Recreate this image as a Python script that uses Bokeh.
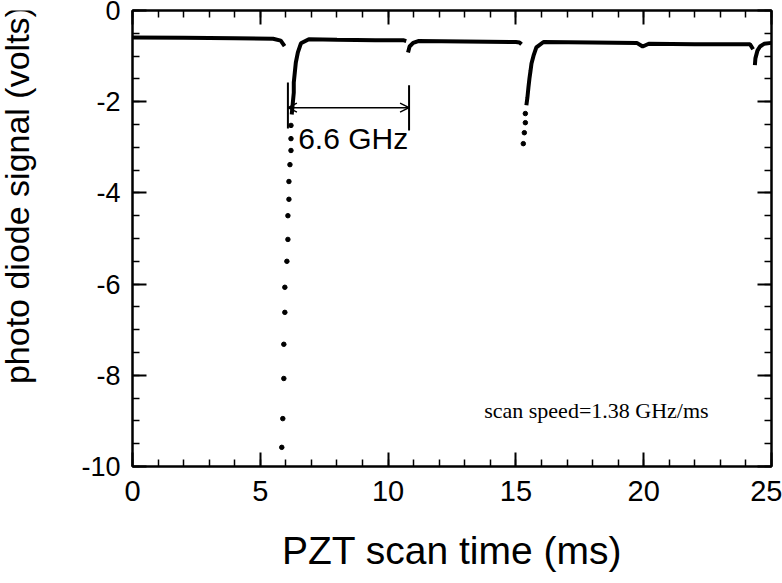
import math
from bokeh.plotting import figure
from bokeh.layouts import row
from bokeh.models import Range1d, LinearAxis, FixedTicker, Arrow, OpenHead, Label
from bokeh.core.properties import value
from bokeh.embed import file_html
from bokeh.resources import INLINE

# ---- data (PZT scan time in ms, photodiode signal in volts) ----
# continuous (densely sampled) parts of the trace; NaN separates pieces
trace_t = [0.0, 2.0, 4.0, 5.5, 5.80, 5.95, float("nan"),
           6.23, 6.27, 6.31, 6.31, 6.35, 6.39, 6.47, 6.59, 6.90, 8.0, 9.5, 10.59, 10.71, float("nan"),
           10.78, 10.84, 10.98, 11.18, 13.0, 15.0, 15.14, 15.22, float("nan"),
           15.41, 15.45, 15.49, 15.53, 15.57, 15.61, 15.69, 15.80, 16.08, 18.0, 19.73, 19.96, 20.20,
           22.0, 24.16, 24.28, float("nan"),
           24.35, 24.37, 24.45, 24.55, 24.71, 25.0]
trace_v = [-0.59, -0.60, -0.61, -0.62, -0.66, -0.78, float("nan"),
           -2.28, -2.04, -1.80, -1.58, -1.36, -1.14, -0.92, -0.72, -0.63, -0.64, -0.65, -0.65, -0.67, float("nan"),
           -0.92, -0.79, -0.71, -0.67, -0.68, -0.69, -0.70, -0.74, float("nan"),
           -2.08, -1.91, -1.69, -1.49, -1.33, -1.16, -0.99, -0.81, -0.69, -0.70, -0.71, -0.79, -0.73,
           -0.74, -0.74, -0.85, float("nan"),
           -1.20, -1.05, -0.88, -0.79, -0.73, -0.71]

# sparse samples in the fast dips
dot_t = [5.84, 5.88, 5.92, 5.92, 5.96, 5.96, 6.04, 6.08, 6.08, 6.12, 6.12, 6.16, 6.20, 6.20, 6.20,
         15.29, 15.33, 15.37, 15.37]
dot_v = [-9.58, -8.95, -8.07, -7.32, -6.62, -6.07, -5.50, -5.02, -4.50, -4.14, -3.75, -3.38, -3.07, -2.81, -2.52,
         -2.92, -2.68, -2.46, -2.26]

# annotation: spacing between the two resonances
mark_t = [6.08, 10.82]
mark_v_top = [-1.58, -1.64]
mark_v_bot = [-2.59, -2.63]
arrow_v = -2.13
mark_text = "6.6 GHz"
speed_text = "scan speed=1.38 GHz/ms"
x_title = "PZT scan time (ms)"
y_title = "photo diode signal (volts)"

x_ticks = [0, 5, 10, 15, 20, 25]
x_minor = [i for i in range(0, 26)]
y_ticks = [-10, -8, -6, -4, -2, 0]
y_minor = [-10 + 0.5 * i for i in range(0, 21)]
y_tick_labels = {-10: "-10", -8: "-8", -6: "-6", -4: "-4", -2: "-2", 0: "0"}

FONT = "Liberation Sans"
W, H = 782, 583
LW = 44  # width of the strip holding the vertical title

# ---- strip with the vertical y-axis title ----
lab = figure(width=LW, height=H, x_range=Range1d(0, LW), y_range=Range1d(0, H),
             output_backend="svg", toolbar_location=None,
             min_border=0, min_border_left=0, min_border_right=0, min_border_top=0, min_border_bottom=0)
lab.axis.visible = False
lab.grid.visible = False
lab.outline_line_color = None
lab.background_fill_color = "white"
lab.border_fill_color = "white"
lab.text(x=[16], y=[347], text=[y_title], angle=math.pi / 2, text_font=value(FONT),
         text_font_size="34px", text_align="center", text_baseline="middle", text_color="black")

# ---- main plot ----
p = figure(width=W - LW, height=H, x_range=Range1d(0, 25), y_range=Range1d(-10, 0),
           output_backend="svg", toolbar_location=None,
           min_border_left=132 - LW, min_border_right=11, min_border_top=10, min_border_bottom=117)
p.background_fill_color = "white"
p.border_fill_color = "white"
p.outline_line_color = "black"
p.outline_line_width = 2
p.xgrid.visible = False
p.ygrid.visible = False

def style_axis(ax, ticks, minor, size):
    ax.ticker = FixedTicker(ticks=ticks, minor_ticks=minor)
    ax.axis_line_color = "black"
    ax.axis_line_width = 2
    ax.major_tick_in = 14
    ax.major_tick_out = 0
    ax.minor_tick_in = 7
    ax.minor_tick_out = 0
    ax.major_tick_line_width = 2
    ax.minor_tick_line_width = 1.5
    ax.major_tick_line_color = "black"
    ax.minor_tick_line_color = "black"
    ax.major_label_text_font = FONT
    ax.major_label_text_color = "black"
    ax.major_label_text_font_size = size

style_axis(p.xaxis[0], x_ticks, x_minor, "29px")
style_axis(p.yaxis[0], y_ticks, y_minor, "27px")
p.yaxis[0].major_label_overrides = y_tick_labels
p.xaxis[0].major_label_standoff = 14
p.yaxis[0].major_label_standoff = 12
p.xaxis[0].axis_label = x_title
p.xaxis[0].axis_label_text_font = FONT
p.xaxis[0].axis_label_text_font_style = "normal"
p.xaxis[0].axis_label_text_font_size = "39px"
p.xaxis[0].axis_label_text_color = "black"
p.xaxis[0].axis_label_standoff = 25

top = LinearAxis()
right = LinearAxis()
style_axis(top, x_ticks, x_minor, "1px")
style_axis(right, y_ticks, y_minor, "1px")
top.major_label_overrides = {t: "" for t in x_ticks}
right.major_label_overrides = {t: "" for t in y_ticks}
top.major_label_standoff = 0
right.major_label_standoff = 0
p.add_layout(top, "above")
p.add_layout(right, "right")

# trace
p.line(trace_t, trace_v, line_color="black", line_width=4)
p.scatter(dot_t, dot_v, size=4.5, color="black")

# annotation marks
p.segment(x0=mark_t, y0=mark_v_top, x1=mark_t, y1=mark_v_bot, line_color="black", line_width=2)
p.add_layout(Arrow(start=OpenHead(size=9, line_width=1.5), end=OpenHead(size=9, line_width=1.5),
                   x_start=mark_t[0], y_start=arrow_v, x_end=mark_t[1], y_end=arrow_v,
                   line_width=1.5, line_color="black"))
p.add_layout(Label(x=6.48, y=-2.81, text=mark_text, text_font=FONT, text_font_size="30px",
                   text_baseline="middle", text_align="left", text_color="black"))
p.add_layout(Label(x=13.76, y=-8.77, text=speed_text, text_font="Liberation Serif", text_font_size="22px",
                   text_baseline="middle", text_align="left", text_color="black"))

layout = row(lab, p, spacing=0)
open("out.html", "w").write(file_html(layout, INLINE))
